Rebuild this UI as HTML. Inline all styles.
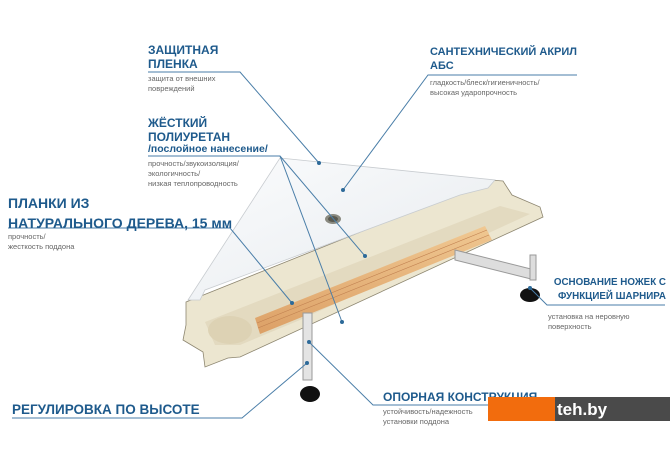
<!DOCTYPE html>
<html><head><meta charset="utf-8"><style>
body{margin:0;background:#fff;width:670px;height:471px;overflow:hidden;font-family:"Liberation Sans",sans-serif}
svg{position:absolute;left:0;top:0}
.t{position:absolute;color:#1e5a8c;font-weight:bold;font-size:12px;line-height:14px;white-space:nowrap}
.s{position:absolute;color:#666;font-size:7.5px;line-height:10px;white-space:nowrap}
</style></head><body>
<svg width="670" height="471" viewBox="0 0 670 471">
<defs>
<linearGradient id="w" x1="0" y1="0" x2="1" y2="1"><stop offset="0" stop-color="#fbfcfd"/><stop offset="1" stop-color="#e6eaee"/></linearGradient>
<linearGradient id="wd" x1="0" y1="0" x2="0" y2="1"><stop offset="0" stop-color="#f0c892"/><stop offset="1" stop-color="#dca066"/></linearGradient>
</defs>
<polygon points="186,302 490,180 503,181 512,195 540,207 543,217 240,357 228,358 205,367 203,352 183,340 186,325" fill="#ece6d0" stroke="#8d8670" stroke-width="0.8"/>
<polygon points="205,322 500,206 530,214 300,320 240,345 215,345" fill="#e3dac0"/>
<ellipse cx="230" cy="330" rx="22" ry="14" fill="#ddd2b4"/>
<polygon points="280,158 495,180 488,188 460,195 205,290 200,300 188,300" fill="url(#w)" stroke="#c8ccd0" stroke-width="0.8"/>
<ellipse cx="333" cy="219" rx="8" ry="5" fill="#8a8a80"/>
<ellipse cx="333" cy="219" rx="5" ry="3" fill="#5a5a50"/>
<polygon points="255,318 485,226 492,240 260,334" fill="url(#wd)"/>
<g stroke="#c08050" stroke-width="0.6"><line x1="257" y1="323" x2="487" y2="230"/><line x1="258" y1="328" x2="489" y2="235"/></g>
<rect x="303" y="313" width="9" height="67" fill="#e4e4e4" stroke="#999"/>
<ellipse cx="310" cy="394" rx="10" ry="8" fill="#111"/>
<polygon points="455,250 535,270 535,280 455,260" fill="#ddd" stroke="#999"/>
<rect x="530" y="255" width="6" height="25" fill="#ddd" stroke="#999"/>
<ellipse cx="530" cy="295" rx="10" ry="7" fill="#111"/>
<g stroke="#4a7ea8" stroke-width="1" fill="none">
<polyline points="148,72 240,72 319,163"/>
<polyline points="148,156 280,156 365,256"/>
<polyline points="280,156 342,322"/>
<polyline points="8,228 230,228 292,303"/>
<polyline points="577,75 428,75 343,190"/>
<polyline points="307,363 242,418 12,418"/>
<polyline points="309,342 373,405 540,405"/>
<polyline points="530,288 547,305 665,305"/>
</g>
<g fill="#2d6a99"><circle cx="319" cy="163" r="2"/><circle cx="343" cy="190" r="2"/><circle cx="365" cy="256" r="2"/><circle cx="292" cy="303" r="2"/><circle cx="342" cy="322" r="2"/><circle cx="309" cy="342" r="2"/><circle cx="307" cy="363" r="2"/><circle cx="530" cy="288" r="2"/></g>
<rect x="488" y="397" width="67" height="24" fill="#f26c0d"/>
<rect x="555" y="397" width="115" height="24" fill="#4a4a4a"/>
<text x="557" y="415" fill="#fff" font-family="Liberation Sans" font-weight="bold" font-size="17">teh.by</text>
</svg>
<div class="t" style="left:148px;top:43px">ЗАЩИТНАЯ<br>ПЛЕНКА</div>
<div class="s" style="left:148px;top:74px">защита от внешних<br>повреждений</div>
<div class="t" style="left:148px;top:116px">ЖЁСТКИЙ<br>ПОЛИУРЕТАН</div>
<div class="t" style="left:148px;top:142px;font-size:10.5px">/послойное нанесение/</div>
<div class="s" style="left:148px;top:159px">прочность/звукоизоляция/<br>экологичность/<br>низкая теплопроводность</div>
<div class="t" style="left:8px;top:193px;font-size:14px;line-height:20px">ПЛАНКИ ИЗ<br>НАТУРАЛЬНОГО ДЕРЕВА, 15 мм</div>
<div class="s" style="left:8px;top:232px">прочность/<br>жесткость поддона</div>
<div class="t" style="left:430px;top:45px;font-size:11px">САНТЕХНИЧЕСКИЙ АКРИЛ<br>АБС</div>
<div class="s" style="left:430px;top:78px">гладкость/блеск/гигиеничность/<br>высокая ударопрочность</div>
<div class="t" style="left:546px;top:276px;font-size:9.8px;text-align:right;width:120px;line-height:14px">ОСНОВАНИЕ НОЖЕК С<br>ФУНКЦИЕЙ ШАРНИРА</div>
<div class="s" style="left:548px;top:312px">установка на неровную<br>поверхность</div>
<div class="t" style="left:12px;top:403px;font-size:13.5px">РЕГУЛИРОВКА ПО ВЫСОТЕ</div>
<div class="t" style="left:383px;top:390px;font-size:12px">ОПОРНАЯ КОНСТРУКЦИЯ</div>
<div class="s" style="left:383px;top:407px">устойчивость/надежность<br>установки поддона</div>
<div class="t" style="left:488px;top:397px;width:67px;height:8px;background:#f26c0d"></div>
</body></html>
